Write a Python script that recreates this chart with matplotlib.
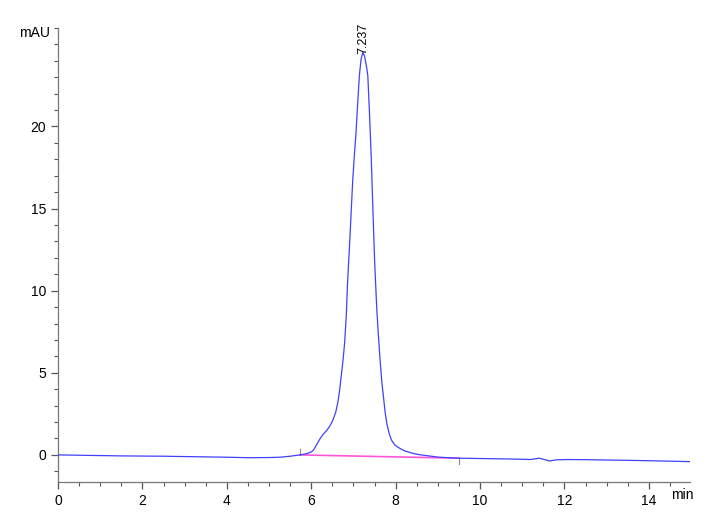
import matplotlib
matplotlib.use("Agg")
import matplotlib.pyplot as plt
from matplotlib.ticker import MultipleLocator, FixedLocator

# retention time (min) and signal (mAU)
time_min = [0.0, 0.5, 1.0, 1.5, 2.0, 2.5, 3.0, 3.5, 4.0, 4.5, 5.0, 5.26, 5.5,
            5.73, 5.9, 6.0, 6.06, 6.12, 6.2, 6.28, 6.37, 6.45, 6.51, 6.58,
            6.63, 6.67, 6.71, 6.75, 6.79, 6.83, 6.86, 6.9, 6.94, 6.98, 7.02,
            7.06, 7.1, 7.14, 7.18, 7.22, 7.26, 7.3, 7.34, 7.38, 7.42, 7.46,
            7.5, 7.55, 7.59, 7.63, 7.67, 7.71, 7.75, 7.79, 7.84, 7.9, 7.98,
            8.09, 8.2, 8.4, 8.55, 8.72, 9.03, 9.5, 10.0, 10.5, 10.93, 11.2,
            11.4, 11.55, 11.64, 11.8, 12.06, 12.5, 13.0, 13.5, 13.93, 14.5,
            14.96]
signal_mau = [0.0, -0.02, -0.04, -0.06, -0.07, -0.08, -0.1, -0.12, -0.14,
              -0.17, -0.16, -0.14, -0.08, 0.0, 0.08, 0.18, 0.32, 0.6, 0.95,
              1.25, 1.5, 1.8, 2.1, 2.6, 3.2, 3.9, 4.8, 5.7, 6.8, 8.5, 10.5,
              12.4, 14.5, 16.6, 18.2, 19.6, 21.4, 23.1, 24.1, 24.5, 24.3,
              23.8, 23.1, 20.8, 18.2, 15.0, 11.9, 9.0, 7.3, 5.8, 4.5, 3.55,
              2.6, 1.93, 1.35, 0.91, 0.6, 0.41, 0.26, 0.1, 0.02, -0.04, -0.14,
              -0.2, -0.22, -0.24, -0.26, -0.28, -0.2, -0.3, -0.37, -0.3,
              -0.28, -0.29, -0.31, -0.33, -0.35, -0.38, -0.41]

# integration baseline and peak annotation
base_t = [5.73, 9.51]
base_y = [0.0, -0.2]
peak_rt = 7.237
peak_h = 24.5

fig = plt.figure(figsize=(7.2, 5.28), dpi=100)
ax = fig.add_axes([0.0806, 0.0871, 0.8775, 0.860])

ax.plot(time_min, signal_mau, color='#4040ff', lw=0.9, zorder=3)
ax.plot(base_t, base_y, color='#ff55dd', lw=1.2, zorder=2)
# baseline start / end markers
ax.plot([base_t[0], base_t[0]], [base_y[0], base_y[0] + 0.35], color='#888888', lw=0.8)
ax.plot([base_t[1], base_t[1]], [base_y[1], base_y[1] - 0.35], color='#888888', lw=0.8)

ax.text(peak_rt, peak_h - 0.1, f"{peak_rt:.3f}", rotation=90, ha='center', va='bottom',
        fontsize=9, family=['Liberation Sans', 'DejaVu Sans'])

ax.set_xlim(0, 14.97)
ax.set_ylim(-1.65, 26.0)
ax.xaxis.set_major_locator(MultipleLocator(2))
ax.xaxis.set_minor_locator(MultipleLocator(0.5))
ax.yaxis.set_major_locator(FixedLocator([0, 5, 10, 15, 20]))
ax.yaxis.set_minor_locator(MultipleLocator(1))

for s in ['top', 'right']:
    ax.spines[s].set_visible(False)
for s in ['left', 'bottom']:
    ax.spines[s].set_color('#777777')
    ax.spines[s].set_linewidth(0.9)

ax.tick_params(which='major', length=5, width=0.9, color='#555555', direction='out', labelsize=10)
ax.tick_params(which='minor', length=3, width=0.8, color='#555555', direction='out')
for lab in ax.get_xticklabels() + ax.get_yticklabels():
    lab.set_family(['Liberation Sans Narrow', 'Liberation Sans', 'DejaVu Sans'])

fig.text(0.07, 0.937, 'mAU', ha='right', va='center', fontsize=10,
         family=['Liberation Sans Narrow', 'Liberation Sans', 'DejaVu Sans'])
fig.text(0.948, 0.063, 'min', ha='center', va='center', fontsize=10,
         family=['Liberation Sans Narrow', 'Liberation Sans', 'DejaVu Sans'])

fig.savefig('out.png', dpi=100)
